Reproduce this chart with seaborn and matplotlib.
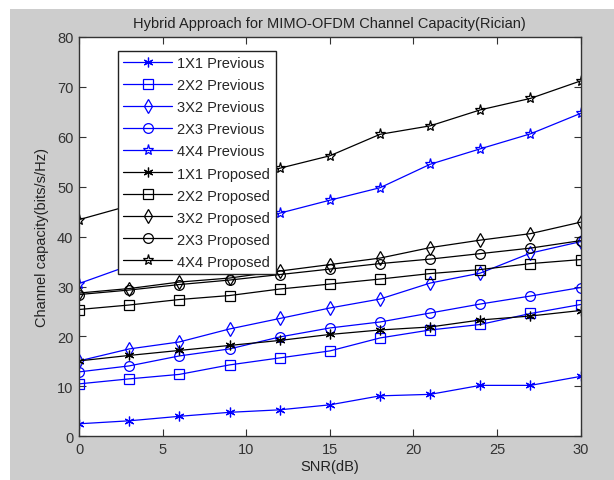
import matplotlib
matplotlib.use("Agg")
import matplotlib.pyplot as plt
import seaborn as sns
import pandas as pd
from matplotlib.patches import Rectangle

snr = [0, 3, 6, 9, 12, 15, 18, 21, 24, 27, 30]

prev_1x1 = [2.5, 3.1, 4.0, 4.8, 5.3, 6.3, 8.1, 8.4, 10.2, 10.2, 12.0]
prev_2x2 = [10.5, 11.5, 12.4, 14.3, 15.7, 17.1, 19.7, 21.3, 22.4, 24.6, 26.4]
prev_3x2 = [15.1, 17.5, 18.9, 21.5, 23.6, 25.7, 27.5, 30.7, 32.7, 36.7, 39.0]
prev_2x3 = [12.9, 14.1, 16.1, 17.5, 19.9, 21.7, 22.9, 24.7, 26.5, 28.1, 29.8]
prev_4x4 = [30.6, 34.2, 37.6, 41.1, 44.7, 47.3, 49.8, 54.5, 57.6, 60.6, 64.7]
prop_1x1 = [15.1, 16.2, 17.2, 18.2, 19.2, 20.4, 21.3, 21.9, 23.3, 24.1, 25.2]
prop_2x2 = [25.4, 26.3, 27.4, 28.2, 29.5, 30.5, 31.5, 32.6, 33.4, 34.6, 35.4]
prop_3x2 = [28.7, 29.6, 30.9, 31.7, 33.1, 34.4, 35.7, 37.8, 39.3, 40.6, 42.9]
prop_2x3 = [28.4, 29.3, 30.4, 31.3, 32.4, 33.5, 34.6, 35.5, 36.6, 37.7, 39.2]
prop_4x4 = [43.4, 46.2, 48.8, 51.2, 53.7, 56.2, 60.5, 62.2, 65.4, 67.7, 71.2]

labels = ["1X1 Previous", "2X2 Previous", "3X2 Previous", "2X3 Previous", "4X4 Previous",
          "1X1 Proposed", "2X2 Proposed", "3X2 Proposed", "2X3 Proposed", "4X4 Proposed"]
series = [prev_1x1, prev_2x2, prev_3x2, prev_2x3, prev_4x4,
          prop_1x1, prop_2x2, prop_3x2, prop_2x3, prop_4x4]

markers = [(6, 2, 0), "s", "d", "o", "*"] * 2
colors = ["#0000ff"] * 5 + ["#000000"] * 5
sizes = [7, 7, 7, 7, 8] * 2

sns.set_theme(style="ticks")
plt.rcParams["font.family"] = ["Liberation Sans", "DejaVu Sans"]

fig = plt.figure(figsize=(6.14, 4.81), dpi=100, facecolor="white")
fig.patches.append(Rectangle((10 / 614, 0), 1, 1 - 10 / 481, transform=fig.transFigure,
                             facecolor="#cdcdcd", edgecolor="none", zorder=-10))
ax = fig.add_axes([0.1287, 0.0909, 0.8170, 0.8301])
ax.set_facecolor("white")

for lab, vals, m, c, s in zip(labels, series, markers, colors, sizes):
    df = pd.DataFrame({"snr": snr, "cap": vals})
    sns.lineplot(data=df, x="snr", y="cap", ax=ax, color=c, marker=m, markersize=s,
                 markerfacecolor="none", markeredgecolor=c, markeredgewidth=0.9,
                 linewidth=0.9, label=lab)

ax.set_xlim(0, 30)
ax.set_ylim(0, 80)
ax.set_xticks(range(0, 31, 5))
ax.set_yticks(range(0, 81, 10))
ax.tick_params(direction="in", length=5, width=0.8, top=True, right=True,
               labelsize=10.5, colors="#333333", pad=4)
for sp in ax.spines.values():
    sp.set_color("#333333")
    sp.set_linewidth(1.0)

ax.set_title("Hybrid Approach for MIMO-OFDM Channel Capacity(Rician)", fontsize=10.5,
             color="#222222", pad=7)
ax.set_xlabel("SNR(dB)", fontsize=10.5, color="#222222", labelpad=2)
ax.set_ylabel("Channel capacity(bits/s/Hz)", fontsize=10.5, color="#222222", labelpad=6)

leg = ax.legend(loc="upper left", bbox_to_anchor=(0.077, 0.966), borderaxespad=0,
                fancybox=False, framealpha=1, edgecolor="#222222", fontsize=10.5,
                handlelength=3.3, labelspacing=0.55, handletextpad=0.4, borderpad=0.4)
leg.get_frame().set_linewidth(1.0)

fig.savefig("out.png", dpi=100, facecolor=fig.get_facecolor())
